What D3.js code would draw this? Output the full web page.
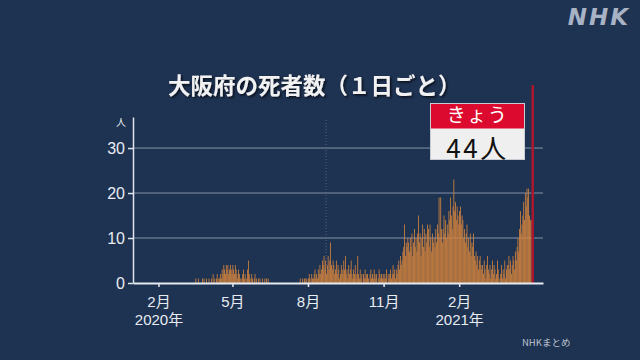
<!DOCTYPE html>
<html>
<head>
<meta charset="utf-8">
<script src="https://cdn.jsdelivr.net/npm/d3@7"></script>
<style>
  html, body { margin: 0; padding: 0; background: #1e3252; }
  svg { display: block; }
</style>
</head>
<body>
<div id="chart"></div>
<script>
// daily deaths in Osaka (one array per month)
const mar2020 = [0,0,0,0,0,0,0,0,0,0,0,0,0,0,0,0,1,0,0,1,0,0,0,0,1,0,1,0,0,1,0];
const apr2020 = [0,1,0,0,1,0,2,0,1,0,1,2,0,1,1,2,1,3,2,4,3,2,4,3,4,2,3,4,3,2];
const may2020 = [4,3,2,4,3,2,1,3,2,1,0,1,2,3,1,2,0,1,3,5,2,1,0,2,1,0,1,2,0,1,0];
const jun2020 = [1,0,1,0,0,1,0,0,1,0,1,0,1,0,0,0,0,0,0,0,0,0,0,0,0,0,0,0,0,0];
const jul2020 = [0,0,0,0,0,0,0,0,0,0,0,0,0,0,0,0,0,0,0,0,0,1,0,0,1,0,1,1,0,1,0];
const aug2020 = [1,2,1,0,2,1,1,2,3,1,2,1,3,2,4,2,3,5,4,6,3,5,2,4,6,3,5,9,4,3,5];
const sep2020 = [4,2,3,5,2,4,3,1,2,4,3,2,5,3,6,2,3,1,4,2,3,5,2,1,3,2,4,1,2,6];
const oct2020 = [2,1,3,1,2,0,2,1,3,1,2,2,1,0,2,3,1,2,1,3,2,1,2,0,1,3,2,1,2,1,2];
const nov2020 = [1,2,1,3,0,2,1,2,3,1,2,4,2,3,1,3,2,4,5,3,6,4,5,7,8,13,6,9,8,10];
const dec2020 = [9,7,10,8,11,6,9,12,8,10,7,11,15,9,11,6,10,13,8,12,7,11,9,13,12,8,13,10,7,11,9];
const jan2021 = [10,8,12,9,13,11,19,10,19,12,9,12,15,11,14,10,13,11,16,14,19,15,12,17,23,16,18,14,17,15,13];
const feb2021 = [16,17,13,15,14,10,12,9,11,13,8,10,7,11,6,9,8,11,6,5,7,4,6,3,5,6,4,3];
const mar2021 = [4,2,5,3,1,4,6,3,2,4,1,3,5,2,4,3,1,2,5,3,1,0,2,4,1,3,2,5,1,3,4];
const apr2021 = [4,6,3,5,2,4,6,5,3,7,5,8,10,7,12,16,11,13,15,18,14,20,17,21,19,21,15,14,14];

const monthStarts = ['2020-03-01','2020-04-01','2020-05-01','2020-06-01','2020-07-01','2020-08-01',
  '2020-09-01','2020-10-01','2020-11-01','2020-12-01','2021-01-01','2021-02-01','2021-03-01','2021-04-01'];
const monthValues = [mar2020, apr2020, may2020, jun2020, jul2020, aug2020,
  sep2020, oct2020, nov2020, dec2020, jan2021, feb2021, mar2021, apr2021];

const todayDate = '2021-04-30';
const todayValue = 44;

const yTicks = [0, 10, 20, 30];
const xTickDates = ['2020-02-01','2020-05-01','2020-08-01','2020-11-01','2021-02-01'];
const xTickLabels = [['2月','2020年'], ['5月'], ['8月'], ['11月'], ['2月','2021年']];

const W = 640, H = 360;
const parse = d3.utcParse('%Y-%m-%d');
const DAY = 86400000;

const series = [];
monthStarts.forEach((m, i) => {
  const t0 = parse(m).getTime();
  monthValues[i].forEach((v, k) => series.push({ date: new Date(t0 + k * DAY), value: v }));
});

const svg = d3.select('#chart').append('svg').attr('width', W).attr('height', H);
svg.append('rect').attr('width', W).attr('height', H).attr('fill', '#1e3252');

const defs = svg.append('defs');
const f = defs.append('filter').attr('id', 'shadow').attr('x', '-10%').attr('y', '-30%').attr('width', '120%').attr('height', '160%');
f.append('feDropShadow').attr('dx', 1.5).attr('dy', 1.5).attr('stdDeviation', 1).attr('flood-color', '#000').attr('flood-opacity', 0.7);

const x = d3.scaleUtc().domain([parse('2020-01-01'), parse('2021-05-14')]).range([133, 543]);
const y = d3.scaleLinear().domain([0, 36.9]).range([283, 117]);
const step = x(new Date(DAY)) - x(new Date(0));

const CJK = "'Noto Sans CJK JP', sans-serif";
const NUM = "'Liberation Sans', 'Noto Sans CJK JP', sans-serif";

// title
svg.append('text')
  .attr('x', 168).attr('y', 94)
  .attr('font-family', CJK).attr('font-weight', 700).attr('font-size', 22.5)
  .attr('fill', '#f2f2f2').attr('filter', 'url(#shadow)')
  .text('大阪府の死者数（１日ごと）');

// NHK logo
svg.append('text')
  .attr('x', 630).attr('y', 25).attr('text-anchor', 'end')
  .attr('font-family', "'DejaVu Sans', sans-serif").attr('font-weight', 700).attr('font-style', 'italic')
  .attr('font-size', 23).attr('letter-spacing', 2).attr('fill', '#a7b3c4')
  .text('NHK');

// gridlines
svg.append('g').selectAll('line')
  .data(yTicks.filter(d => d > 0))
  .join('line')
  .attr('x1', 133).attr('x2', 543)
  .attr('y1', d => y(d)).attr('y2', d => y(d))
  .attr('stroke', '#8392a8').attr('stroke-width', 1);

// faint dotted marker line
svg.append('line')
  .attr('x1', x(parse('2020-08-23'))).attr('x2', x(parse('2020-08-23')))
  .attr('y1', 120).attr('y2', 283)
  .attr('stroke', '#5f6f89').attr('stroke-width', 0.8).attr('stroke-dasharray', '1,2');

// bars
svg.append('g').selectAll('rect')
  .data(series.filter(d => d.value > 0))
  .join('rect')
  .attr('x', d => x(d.date))
  .attr('y', d => y(d.value))
  .attr('width', step)
  .attr('height', d => y(0) - y(d.value))
  .attr('fill', '#d4843d');

// today's bar
svg.append('rect')
  .attr('x', x(parse(todayDate)))
  .attr('y', y(todayValue))
  .attr('width', 2.4)
  .attr('height', y(0) - y(todayValue))
  .attr('fill', '#b0162c');

// y axis
const yAxis = svg.append('g').attr('transform', 'translate(133,0)')
  .call(d3.axisLeft(y).tickValues(yTicks).tickSize(5).tickSizeOuter(0).tickPadding(3));
yAxis.select('.domain').attr('stroke', '#dfe5ec').attr('stroke-width', 1.5);
yAxis.selectAll('.tick line').attr('stroke', '#dfe5ec').attr('stroke-width', 1.5);
yAxis.selectAll('.tick text').attr('font-family', NUM).attr('font-size', 16).attr('fill', '#e8ecf1');

svg.append('text')
  .attr('x', 121).attr('y', 126).attr('text-anchor', 'middle')
  .attr('font-family', CJK).attr('font-size', 10).attr('fill', '#e8ecf1')
  .text('人');

// x axis
const xAxis = svg.append('g').attr('transform', 'translate(0,283)')
  .call(d3.axisBottom(x).tickValues(xTickDates.map(parse)).tickSize(4).tickSizeOuter(0).tickFormat(''));
xAxis.select('.domain').attr('stroke', '#e6ebf1').attr('stroke-width', 2);
xAxis.selectAll('.tick line').attr('stroke', '#e6ebf1').attr('stroke-width', 1.5);
xAxis.selectAll('.tick text').remove();
xAxis.selectAll('.tick').each(function (d, i) {
  const t = d3.select(this).append('text')
    .attr('text-anchor', 'middle')
    .attr('font-family', NUM).attr('font-size', 15).attr('fill', '#e8ecf1');
  xTickLabels[i].forEach((s, j) => {
    t.append('tspan').attr('x', 0).attr('y', 24 + j * 18).text(s);
  });
});

// "today" label box
const box = svg.append('g');
box.append('rect').attr('x', 430.5).attr('y', 103.5).attr('width', 94).attr('height', 56)
  .attr('fill', '#efefef').attr('stroke', '#c9cdd3').attr('stroke-width', 1);
box.append('rect').attr('x', 431).attr('y', 104).attr('width', 93).attr('height', 24.5)
  .attr('fill', '#dc0a2e');
box.append('text').attr('x', 477.5).attr('y', 121.5).attr('text-anchor', 'middle')
  .attr('font-family', CJK).attr('font-size', 19).attr('letter-spacing', 1.5).attr('fill', '#ffffff')
  .text('きょう');
box.append('text').attr('x', 477.5).attr('y', 157.5).attr('text-anchor', 'middle')
  .attr('font-family', CJK).attr('font-size', 26).attr('letter-spacing', 2.5).attr('fill', '#111')
  .text(todayValue + '人');

// source
svg.append('text')
  .attr('x', 522).attr('y', 346)
  .attr('font-family', CJK).attr('font-size', 9.5).attr('fill', '#bcc4cf')
  .text('NHKまとめ');
</script>
</body>
</html>
